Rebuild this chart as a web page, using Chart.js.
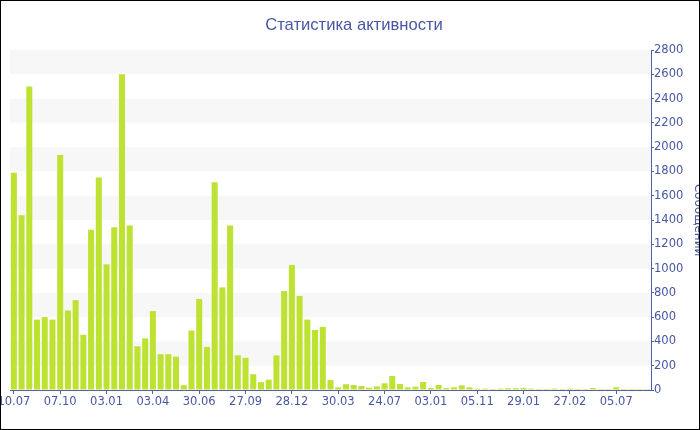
<!DOCTYPE html>
<html>
<head>
<meta charset="utf-8">
<script src="https://cdn.jsdelivr.net/npm/chart.js@4/dist/chart.umd.min.js"></script>
<style>
  html, body { margin: 0; padding: 0; background: #fff; }
  #wrap { position: absolute; left: 0; top: 0; width: 700px; height: 430px; box-sizing: border-box; border: 1px solid #000; overflow: hidden; background: #fff; }
  canvas { display: block; margin-left: -20px; }
</style>
</head>
<body>
<div id="wrap"><canvas id="c" width="730" height="428"></canvas></div>
<script>
// ---- data ----
const chartTitle = "Статистика активности";
const yAxisTitle = "Сообщений";
const tickLabels = ["10.07","07.10","03.01","03.04","30.06","27.09","28.12","30.03","24.07","03.01","05.11","29.01","27.02","05.07"];
const labelEvery = 6;
const messages = [
  1790, 1440, 2500, 580, 600, 580, 1935, 655, 740, 455,
  1320, 1750, 1035, 1340, 2600, 1355, 360, 425, 650, 295,
  295, 275, 40, 490, 750, 355, 1710, 845, 1355, 285,
  265, 130, 65, 85, 285, 815, 1030, 775, 580, 495,
  520, 82, 22, 47, 41, 33, 19, 30, 55, 115,
  49, 22, 27, 66, 16, 41, 16, 22, 38, 22,
  11, 11, 8, 11, 14, 14, 16, 11, 8, 8,
  11, 8, 11, 8, 8, 16, 8, 8, 22, 8,
  8, 8, 8
];
const yMin = 0, yMax = 2800, yMajor = 200, yMinor = 100;

const categories = messages.map((_, i) => (i % labelEvery === 0 ? (tickLabels[i / labelEvery] || '') : ''));

const blue = '#4757a3';
const axisBlue = '#5060aa';

const bandPlugin = {
  id: 'bands',
  beforeDatasetsDraw(chart) {
    const {ctx, chartArea, scales} = chart;
    const y = scales.y;
    ctx.save();
    ctx.fillStyle = '#f7f7f7';
    for (let v = yMajor; v < yMax; v += 2 * yMajor) {
      const top = y.getPixelForValue(v + yMajor);
      const bot = y.getPixelForValue(v);
      ctx.fillRect(chartArea.left, top, chartArea.right - chartArea.left, bot - top);
    }
    ctx.restore();
  }
};

new Chart(document.getElementById('c'), {
  type: 'bar',
  data: {
    labels: categories,
    datasets: [{
      data: messages,
      backgroundColor: '#bde232',
      borderWidth: 0,
      barPercentage: 0.78,
      categoryPercentage: 1.0
    }]
  },
  options: {
    responsive: false,
    animation: false,
    events: [],
    layout: { autoPadding: false, padding: { left: 29, right: 13, top: 0, bottom: 0 } },
    plugins: {
      legend: { display: false },
      tooltip: { enabled: false },
      title: {
        display: true,
        text: chartTitle,
        color: blue,
        font: { family: 'Liberation Sans, Arial, sans-serif', size: 16.6, weight: 'normal', lineHeight: 1.2 },
        padding: { top: 14, bottom: 15.1 }
      }
    },
    scales: {
      x: {
        offset: true,
        grid: { display: true, drawOnChartArea: false, offset: false, tickLength: 4, color: axisBlue, tickColor: axisBlue },
        border: { display: true, color: axisBlue, width: 1 },
        ticks: {
          autoSkip: false,
          maxRotation: 0,
          minRotation: 0,
          padding: 1,
          color: blue,
          font: { family: 'DejaVu Sans, Verdana, sans-serif', size: 11.5 },
          callback: function(value, index) {
            const l = categories[index];
            return l ? l : null;
          }
        },
        afterFit(scale) { scale.height = 39; }
      },
      y: {
        position: 'right',
        min: yMin,
        max: yMax,
        grid: { display: true, drawOnChartArea: false, tickLength: 3, color: axisBlue, tickColor: axisBlue },
        border: { display: true, color: axisBlue, width: 1 },
        ticks: {
          stepSize: yMinor,
          padding: 0,
          color: blue,
          font: { family: 'DejaVu Sans, Verdana, sans-serif', size: 11.5 },
          callback: function(value) { return value % yMajor === 0 ? value : ''; }
        },
        title: {
          display: true,
          text: yAxisTitle,
          color: blue,
          font: { family: 'DejaVu Sans, Verdana, sans-serif', size: 12 },
          padding: { top: -7, bottom: 0 }
        },
        afterFit(scale) { scale.width = 47; }
      }
    }
  },
  plugins: [bandPlugin]
});
</script>
</body>
</html>
